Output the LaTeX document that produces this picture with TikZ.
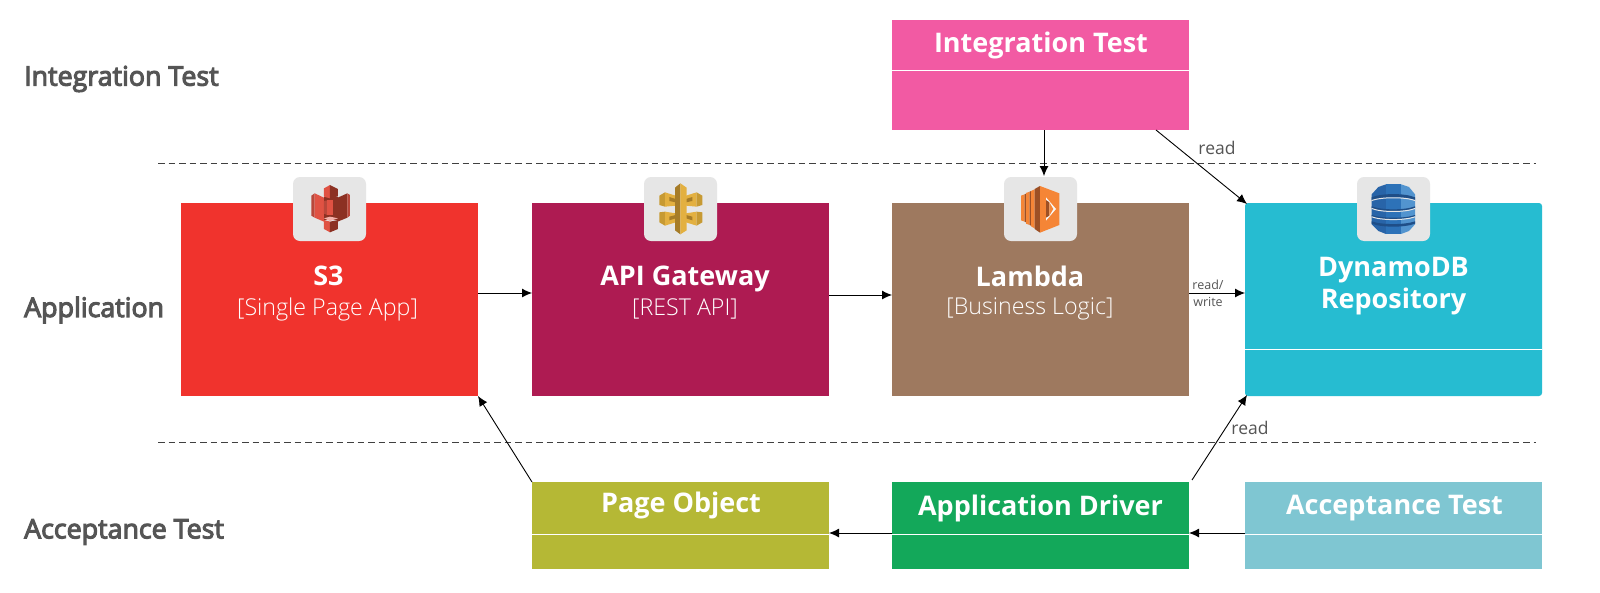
\documentclass[tikz,border=0pt]{standalone}
\usepackage{fontspec}
\setmainfont{Open Sans}
\newfontfamily\oslight{Open Sans Light}
\newfontfamily\ossemi[FakeBold=4]{Open Sans}
\usetikzlibrary{arrows.meta}
\definecolor{cred}{HTML}{F0332D}
\definecolor{ccrim}{HTML}{AE1B52}
\definecolor{cbrown}{HTML}{9E795F}
\definecolor{ccyan}{HTML}{26BCD1}
\definecolor{cpink}{HTML}{F25AA3}
\definecolor{colive}{HTML}{B5B835}
\definecolor{cgreen}{HTML}{13A85A}
\definecolor{cteal}{HTML}{7FC6D2}
\definecolor{ctext}{HTML}{555555}
\definecolor{cicon}{HTML}{E6E6E6}
\tikzset{
 x=1pt,y=-1pt,
 boxn/.style={inner sep=0pt,outer sep=0pt,anchor=north west},
 divider/.style={white,line width=1pt},
 sep/.style={black!75,line width=.8pt,dash pattern=on 6.5pt off 4pt},
 conn/.style={black,line width=.9pt,-{Latex[length=10pt,width=9pt]}},
 rowlabel/.style={text=ctext,font=\ossemi\fontsize{26.8}{30}\selectfont,anchor=west,inner sep=0pt},
 title/.style={text=white,font=\bfseries\fontsize{27}{32}\selectfont,align=center,inner sep=0pt},
 sub/.style={text=white,font=\oslight\fontsize{23.2}{27}\selectfont,inner sep=0pt},
 small/.style={text=ctext,font=\fontsize{17.5}{20}\selectfont,inner sep=0pt},
 tiny/.style={text=ctext,font=\fontsize{12.5}{15}\selectfont,inner sep=0pt},
 iconbg/.style={fill=cicon,rounded corners=7pt,minimum width=73pt,minimum height=64pt,inner sep=0pt},
}
\newcommand{\pf}[2]{\fill[#1] #2 -- cycle;}
\begin{document}
\begin{tikzpicture}
\useasboundingbox (0,0) rectangle (1600,592);
\fill[white] (0,0) rectangle (1600,592);
% separators
\coordinate (s1a) at (158,163); \coordinate (s1b) at (1536,163);
\coordinate (s2a) at (158,442); \coordinate (s2b) at (1536,442);
\draw[sep] (s1a) -- (s1b);
\draw[sep] (s2a) -- (s2b);
% boxes
\node[boxn,fill=cpink,minimum width=297pt,minimum height=110pt] (it) at (892,20) {};
\node[boxn,fill=cred,minimum width=297pt,minimum height=193pt] (s3) at (181,203) {};
\node[boxn,fill=ccrim,minimum width=297pt,minimum height=193pt] (api) at (532,203) {};
\node[boxn,fill=cbrown,minimum width=297pt,minimum height=193pt] (lam) at (892,203) {};
\node[boxn,fill=ccyan,rounded corners=3pt,minimum width=297pt,minimum height=193pt] (dyn) at (1245,203) {};
\node[boxn,fill=colive,minimum width=297pt,minimum height=87pt] (po) at (532,482) {};
\node[boxn,fill=cgreen,minimum width=297pt,minimum height=87pt] (ad) at (892,482) {};
\node[boxn,fill=cteal,minimum width=297pt,minimum height=87pt] (at) at (1245,482) {};
% dividers
\draw[divider] (892,70.5) -- (1189,70.5);
\draw[divider] (1245,349) -- (1542,349);
\draw[divider] (532,534) -- (829,534);
\draw[divider] (892,534) -- (1189,534);
\draw[divider] (1245,534) -- (1542,534);
% titles
\node[title] (tit) at (1041,45.5) {Integration Test};
\node[title] (ts3) at (328.5,276) {S3};
\node[sub] (ss3) at (327.5,309) {[Single Page App]};
\node[title] (tapi) at (685,279) {API Gateway};
\node[sub] (sapi) at (685,309) {[REST API]};
\node[title] (tlam) at (1030,276) {Lambda};
\node[sub] (slam) at (1030,309) {[Business Logic]};
\node[title,text width=280pt] (tdyn) at (1393.5,286.5) {DynamoDB\\Repository};
\node[title] (tpo) at (681,505) {Page Object};
\node[title] (tad) at (1040.5,508) {Application Driver};
\node[title] (tat) at (1394.5,508) {Acceptance Test};
% row labels
\node[rowlabel] (r1) at (24,79) {Integration Test};
\node[rowlabel] (r2) at (24,310) {Application};
\node[rowlabel] (r3) at (24,532) {Acceptance Test};
% icon backgrounds
\node[iconbg] (i1) at (329.5,209) {};
\node[iconbg] (i2) at (680.5,209) {};
\node[iconbg] (i3) at (1040.5,209) {};
\node[iconbg] (i4) at (1393.5,209) {};
% S3 icon
\begin{scope}[shift={(270,165)},x=.3333pt,y=-.3333pt]
\definecolor{a}{HTML}{E05243}\definecolor{b}{HTML}{8C3123}\definecolor{c}{HTML}{F2B0A9}\definecolor{d}{HTML}{B9473A}
\pf{d}{(124,92)--(134,85)--(134,158)--(124,152)}
\pf{a}{(134,85)--(162,98)--(162,170)--(134,158)}
\pf{b}{(203,98)--(232,85)--(232,158)--(203,170)}
\pf{d}{(232,85)--(240,90)--(240,152)--(232,158)}
\fill[b] (162,95) rectangle (204,165);
\pf{a}{(162,70)--(180,60)--(180,100)--(162,95)}
\pf{b}{(180,60)--(204,72)--(204,94)--(180,100)}
\pf{d}{(162,108)--(172,106)--(172,150)--(162,146)}
\pf{a}{(172,106)--(190,106)--(190,150)--(172,150)}
\pf{c}{(162,160)--(180,155)--(204,160)--(180,168)}
\pf{a}{(162,165)--(180,170)--(180,202)--(162,192)}
\pf{b}{(180,170)--(204,165)--(204,192)--(180,202)}
\end{scope}
% API Gateway icon
\begin{scope}[shift={(615,165)},x=.3333pt,y=-.3333pt]
\definecolor{a}{HTML}{E3B040}\definecolor{b}{HTML}{A67C28}\definecolor{d}{HTML}{C79A33}
\pf{d}{(133,92)--(150,82)--(150,125)--(133,120)}
\pf{a}{(150,82)--(182,92)--(182,122)--(150,125)}
\pf{b}{(163,96)--(182,102)--(182,112)--(163,108)}
\pf{d}{(133,142)--(150,140)--(150,182)--(133,172)}
\pf{a}{(150,140)--(182,145)--(182,172)--(150,182)}
\pf{b}{(163,155)--(182,150)--(182,160)--(163,166)}
\pf{a}{(213,92)--(245,82)--(245,125)--(213,122)}
\pf{b}{(213,102)--(232,96)--(232,108)--(213,112)}
\pf{d}{(245,82)--(262,92)--(262,120)--(245,125)}
\pf{a}{(213,145)--(245,140)--(245,182)--(213,172)}
\pf{b}{(213,150)--(232,155)--(232,166)--(213,160)}
\pf{d}{(245,140)--(262,142)--(262,172)--(245,182)}
\pf{b}{(180,68)--(196,55)--(196,208)--(180,196)}
\pf{a}{(196,55)--(215,68)--(215,196)--(196,208)}
\end{scope}
% Lambda icon
\begin{scope}[shift={(970,165)},x=.3333pt,y=-.3333pt]
\definecolor{a}{HTML}{F58536}\definecolor{b}{HTML}{9D5025}
\pf{a}{(153,92)--(164,88)--(164,170)--(153,166)}
\pf{b}{(164,88)--(168,86)--(168,172)--(164,170)}
\pf{a}{(168,84)--(179,80)--(179,180)--(168,176)}
\pf{b}{(179,80)--(183,78)--(183,182)--(179,180)}
\pf{a}{(183,78)--(194,73)--(194,190)--(183,184)}
\pf{b}{(194,72)--(210,63)--(210,203)--(194,192)}
\pf{a}{(210,63)--(268,85)--(268,180)--(210,203)}
\fill[white!70!cicon] (228,97)--(258,132)--(228,167)--cycle;
\pf{b}{(228,105)--(238,112)--(238,152)--(228,158)}
\pf{a}{(238,112)--(250,132)--(238,152)}
\end{scope}
% DynamoDB icon
\begin{scope}[shift={(1315,165)},x=.3333pt,y=-.3333pt]
\definecolor{a}{HTML}{2D72B8}\definecolor{b}{HTML}{5294CF}\definecolor{c}{HTML}{1F4E87}\definecolor{d}{HTML}{2864A8}
\pf{d}{(170,88)--(190,66)--(213,58)--(213,207)--(190,198)--(170,178)}
\pf{a}{(213,58)--(258,58)--(258,207)--(213,207)}
\pf{b}{(258,58)--(282,66)--(300,88)--(300,178)--(282,198)--(258,207)}
\fill[c] (170,97) .. controls (200,84) and (270,84) .. (300,97) -- (300,105) .. controls (270,94) and (200,94) .. (170,105) -- cycle;
\fill[cicon] (170,105) .. controls (200,94) and (270,94) .. (300,105) -- (300,108) .. controls (270,97) and (200,97) .. (170,108) -- cycle;
\fill[c] (170,124) .. controls (200,136) and (270,136) .. (300,124) -- (300,129) .. controls (270,141) and (200,141) .. (170,129) -- cycle;
\fill[cicon] (170,129) .. controls (200,141) and (270,141) .. (300,129) -- (300,132) .. controls (270,144) and (200,144) .. (170,132) -- cycle;
\fill[c] (170,150) .. controls (200,161) and (270,161) .. (300,150) -- (300,154) .. controls (270,165) and (200,165) .. (170,154) -- cycle;
\fill[cicon] (170,154) .. controls (200,165) and (270,165) .. (300,154) -- (300,157) .. controls (270,168) and (200,168) .. (170,157) -- cycle;
\fill[c] (170,169) .. controls (200,180) and (270,180) .. (300,169) -- (300,176) .. controls (270,188) and (200,188) .. (170,176) -- cycle;
\end{scope}
% connectors
\coordinate (e1s) at (1044,130); \coordinate (e1e) at (1044,176);
\draw[conn] (e1s) -- (e1e);
\coordinate (e2s) at (1156,130); \coordinate (e2e) at (1247,204);
\draw[conn] (e2s) -- (e2e);
\draw[conn] (s3.east |- 0,293) -- (api.west |- 0,293);
\draw[conn] (api.east |- 0,295) -- (lam.west |- 0,295);
\draw[conn] (lam.east |- 0,293) -- (dyn.west |- 0,293);
\draw[conn] (po.north west) -- (s3.south east);
\coordinate (e6s) at (1192,480);
\coordinate (e6e) at (1247,395);
\draw[conn] (e6s) -- (e6e);
\draw[conn] (at.west |- 0,533) -- (ad.east |- 0,533);
\draw[conn] (ad.west |- 0,533) -- (po.east |- 0,533);
% labels
\node[small] (l1) at (1217,148) {read};
\node[small] (l2) at (1250,428) {read};
\node[tiny] (l3) at (1208,285) {read/};
\node[tiny] (l4) at (1208,302) {write};
\end{tikzpicture}
\end{document}
